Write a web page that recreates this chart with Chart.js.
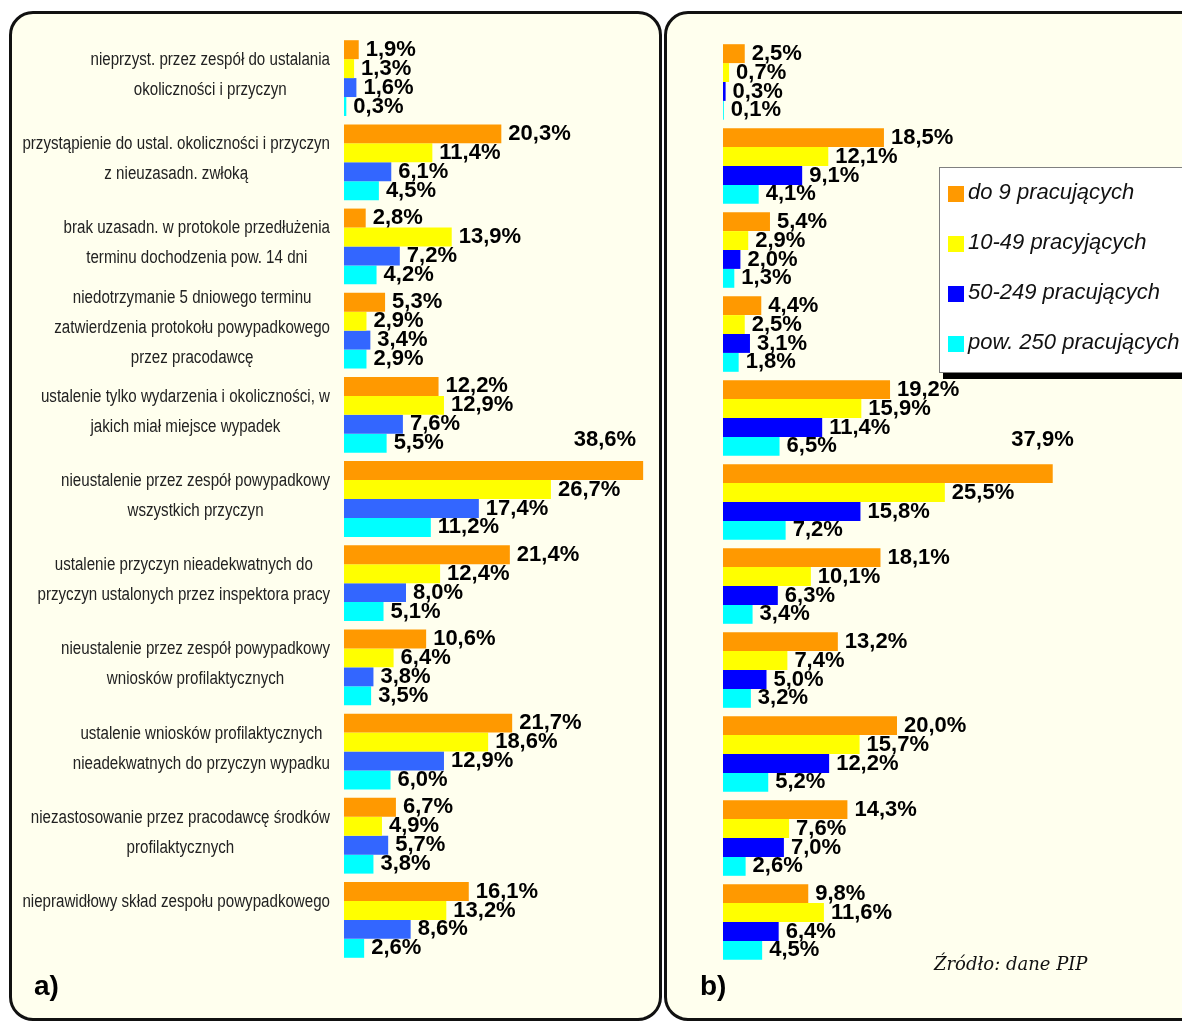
<!DOCTYPE html>
<html>
<head>
<meta charset="utf-8">
<script src="https://cdn.jsdelivr.net/npm/chart.js@4.4.0/dist/chart.umd.min.js"></script>
<style>
  html, body { margin: 0; padding: 0; background: #fff; }
  body { width: 1182px; height: 1023px; position: relative; overflow: hidden; font-family: "Liberation Sans", Arial, sans-serif; }
  .panel { position: absolute; box-sizing: border-box; border: 3px solid #111; border-radius: 24px; background: #FFFFEE; }
  #panelA { left: 9px; top: 11px; width: 653px; height: 1010px; }
  #panelB { left: 664px; top: 11px; width: 560px; height: 1010px; }
  canvas { position: absolute; }
  #chartA { left: 10px; top: 12px; }
  #chartB { left: 667px; top: 12px; }
  .tag { position: absolute; font: bold 28px "Liberation Sans", Arial, sans-serif; color: #000; }
  #tagA { left: 34px; top: 970px; }
  #tagB { left: 700px; top: 970px; }
  #source { position: absolute; left: 934px; top: 953px; font: italic 18px "DejaVu Serif", serif; color: #111; }
</style>
</head>
<body>
<div class="panel" id="panelA"></div>
<div class="panel" id="panelB"></div>
<canvas id="chartA" width="651" height="1008"></canvas>
<canvas id="chartB" width="515" height="1008"></canvas>
<div class="tag" id="tagA">a)</div>
<div class="tag" id="tagB">b)</div>
<div id="source">Źródło: dane PIP</div>
<script>
const categories = [
  ["nieprzyst. przez zespół do ustalania", "okoliczności i przyczyn"],
  ["przystąpienie do ustal. okoliczności i przyczyn", "z nieuzasadn. zwłoką"],
  ["brak uzasadn. w protokole przedłużenia", "terminu dochodzenia pow. 14 dni"],
  ["niedotrzymanie 5 dniowego terminu", "zatwierdzenia protokołu powypadkowego", "przez pracodawcę"],
  ["ustalenie tylko wydarzenia i okoliczności, w", "jakich miał miejsce wypadek"],
  ["nieustalenie przez zespół powypadkowy", "wszystkich przyczyn"],
  ["ustalenie przyczyn nieadekwatnych do", "przyczyn ustalonych przez inspektora pracy"],
  ["nieustalenie przez zespół powypadkowy", "wniosków profilaktycznych"],
  ["ustalenie wniosków profilaktycznych", "nieadekwatnych do przyczyn wypadku"],
  ["niezastosowanie przez pracodawcę środków", "profilaktycznych"],
  ["nieprawidłowy skład zespołu powypadkowego", ""]
];

const seriesNames = ["do 9 pracujących", "10-49 pracyjących", "50-249 pracujących", "pow. 250 pracujących"];

// panel a)
const a_do9 =    [1.9, 20.3, 2.8, 5.3, 12.2, 38.6, 21.4, 10.6, 21.7, 6.7, 16.1];
const a_10_49 =  [1.3, 11.4, 13.9, 2.9, 12.9, 26.7, 12.4, 6.4, 18.6, 4.9, 13.2];
const a_50_249 = [1.6, 6.1, 7.2, 3.4, 7.6, 17.4, 8.0, 3.8, 12.9, 5.7, 8.6];
const a_pow250 = [0.3, 4.5, 4.2, 2.9, 5.5, 11.2, 5.1, 3.5, 6.0, 3.8, 2.6];

// panel b)
const b_do9 =    [2.5, 18.5, 5.4, 4.4, 19.2, 37.9, 18.1, 13.2, 20.0, 14.3, 9.8];
const b_10_49 =  [0.7, 12.1, 2.9, 2.5, 15.9, 25.5, 10.1, 7.4, 15.7, 7.6, 11.6];
const b_50_249 = [0.3, 9.1, 2.0, 3.1, 11.4, 15.8, 6.3, 5.0, 12.2, 7.0, 6.4];
const b_pow250 = [0.1, 4.1, 1.3, 1.8, 6.5, 7.2, 3.4, 3.2, 5.2, 2.6, 4.5];

const colorsA = ["#FF9900", "#FFFF00", "#3366FF", "#00FFFF"];
const colorsB = ["#FF9900", "#FFFF00", "#0000FF", "#00FFFF"];

function fmt(v) {
  return v.toFixed(1).replace(".", ",") + "%";
}

// value labels next to bar ends; the largest bar gets its label above
const barLabels = {
  id: "barLabels",
  afterDatasetsDraw(chart, args, opts) {
    const ctx = chart.ctx;
    let maxV = -1, maxDs = 0, maxIdx = 0;
    chart.data.datasets.forEach((ds, i) => {
      ds.data.forEach((v, j) => { if (v > maxV) { maxV = v; maxDs = i; maxIdx = j; } });
    });
    ctx.save();
    ctx.font = 'bold 22px "Liberation Sans", Arial, sans-serif';
    ctx.fillStyle = "#000";
    ctx.textBaseline = "middle";
    chart.data.datasets.forEach((ds, i) => {
      chart.getDatasetMeta(i).data.forEach((bar, j) => {
        const txt = fmt(ds.data[j]);
        if (i === maxDs && j === maxIdx) {
          ctx.textAlign = "right";
          ctx.fillText(txt, bar.x + opts.maxDx, bar.y + opts.maxDy);
        } else {
          ctx.textAlign = "left";
          ctx.fillText(txt, bar.x + 7, bar.y);
        }
      });
    });
    ctx.restore();
  }
};

// wrapped category labels, each block centred and pushed against the bars
// (narrow font is not installed, so the text is squeezed horizontally)
const catLabels = {
  id: "catLabels",
  afterDraw(chart, args, opts) {
    if (!opts.show) return;
    const ctx = chart.ctx;
    const y = chart.scales.y;
    const sx = 0.84;
    ctx.save();
    ctx.font = '18px "Liberation Sans", Arial, sans-serif';
    ctx.fillStyle = "#222";
    ctx.textAlign = "center";
    ctx.textBaseline = "middle";
    chart.data.labels.forEach((lines, i) => {
      const cy = y.getPixelForValue(i) - 3;
      const w = Math.max(...lines.map(l => ctx.measureText(l).width)) * sx;
      const cx = opts.right - w / 2;
      lines.forEach((l, k) => {
        ctx.save();
        ctx.translate(cx, cy + (k - (lines.length - 1) / 2) * 30);
        ctx.scale(sx, 1);
        ctx.fillText(l, 0, 0);
        ctx.restore();
      });
    });
    ctx.restore();
  }
};

// boxed legend with a hard shadow
const boxLegend = {
  id: "boxLegend",
  afterDraw(chart, args, opts) {
    if (!opts.show) return;
    const ctx = chart.ctx;
    const x = opts.x, y = opts.y, w = 300, h = 205;
    ctx.save();
    ctx.fillStyle = "#000";
    ctx.fillRect(x + 4, y + 7, w, h);
    ctx.fillStyle = "#fff";
    ctx.fillRect(x, y, w, h);
    ctx.strokeStyle = "#808080";
    ctx.lineWidth = 1;
    ctx.strokeRect(x + 0.5, y + 0.5, w, h);
    ctx.font = 'italic 22px "Liberation Sans", Arial, sans-serif';
    ctx.textBaseline = "middle";
    ctx.textAlign = "left";
    chart.data.datasets.forEach((ds, i) => {
      const ry = y + 19 + i * 50;
      ctx.fillStyle = ds.backgroundColor;
      ctx.fillRect(x + 9, ry, 16, 16);
      ctx.fillStyle = "#111";
      ctx.fillText(ds.label, x + 29, ry + 7);
    });
    ctx.restore();
  }
};

function makeDatasets(series, colors) {
  return series.map((data, i) => ({
    label: seriesNames[i],
    data: data,
    backgroundColor: colors[i],
    borderWidth: 0,
    categoryPercentage: 0.9,
    barPercentage: 1.0
  }));
}

const chartA = new Chart(document.getElementById("chartA"), {
  type: "bar",
  data: {
    labels: categories,
    datasets: makeDatasets([a_do9, a_10_49, a_50_249, a_pow250], colorsA)
  },
  options: {
    indexAxis: "y",
    responsive: false,
    animation: false,
    layout: { padding: { left: 334, right: 7, top: 24, bottom: 58 } },
    scales: {
      x: { display: false, min: 0, max: 40 },
      y: { display: false }
    },
    plugins: {
      legend: { display: false },
      tooltip: { enabled: false },
      barLabels: { maxDx: -7, maxDy: -31 },
      catLabels: { show: true, right: 320 },
      boxLegend: { show: false }
    }
  },
  plugins: [barLabels, catLabels, boxLegend]
});

const chartB = new Chart(document.getElementById("chartB"), {
  type: "bar",
  data: {
    labels: categories,
    datasets: makeDatasets([b_do9, b_10_49, b_50_249, b_pow250], colorsB)
  },
  options: {
    indexAxis: "y",
    responsive: false,
    animation: false,
    layout: { padding: { left: 56, right: 111, top: 28, bottom: 56 } },
    scales: {
      x: { display: false, min: 0, max: 40 },
      y: { display: false }
    },
    plugins: {
      legend: { display: false },
      tooltip: { enabled: false },
      barLabels: { maxDx: 21, maxDy: -34 },
      catLabels: { show: false },
      boxLegend: { show: true, x: 272, y: 155 }
    }
  },
  plugins: [barLabels, catLabels, boxLegend]
});
</script>
</body>
</html>
